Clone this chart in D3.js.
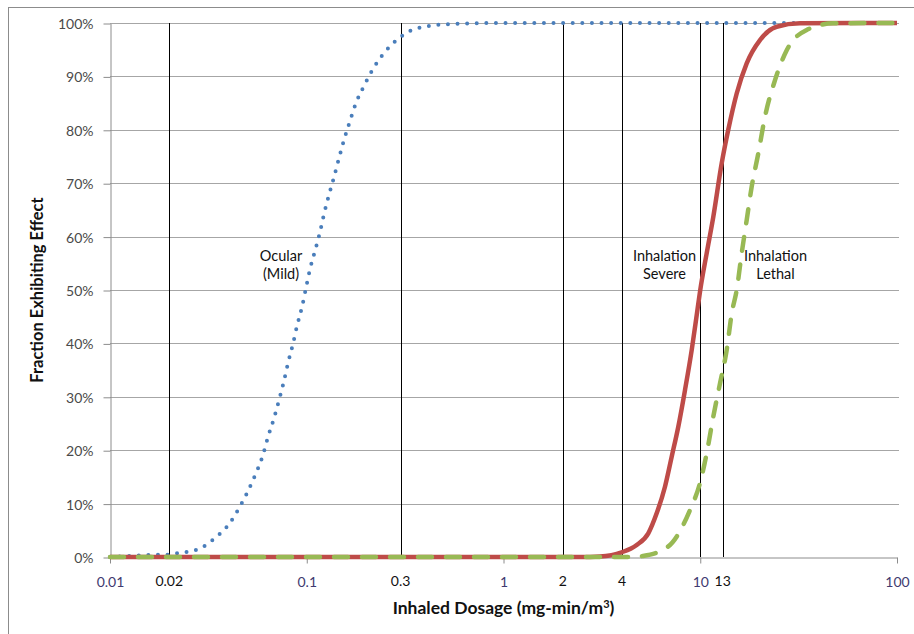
<!DOCTYPE html>
<html>
<head>
<meta charset="utf-8">
<script src="https://cdnjs.cloudflare.com/ajax/libs/d3/7.8.5/d3.min.js"></script>
<style>
  body { margin: 0; background: #fff; }
  svg text { font-family: Lato, "Open Sans", sans-serif; }
</style>
</head>
<body>
<svg></svg>
<script>
// values (dose in mg-min/m3, fraction 0..1)
var ocularDose = [0.01, 0.013, 0.016, 0.02, 0.0224, 0.0283, 0.0342, 0.0403, 0.0453, 0.0503, 0.0552, 0.0599,
  0.0635, 0.0682, 0.0723, 0.0766, 0.0803, 0.0851, 0.0892, 0.0946, 0.0991, 0.1039, 0.1101, 0.1168, 0.1224,
  0.1297, 0.1376, 0.1459, 0.1546, 0.1659, 0.1779, 0.1954, 0.2171, 0.247, 0.2909, 0.355, 0.5346, 1, 10, 100];
var ocularFrac = [0, 0.002, 0.004, 0.0045, 0.0075, 0.015, 0.0356, 0.0618, 0.0918, 0.1236, 0.157, 0.191,
  0.2247, 0.2603, 0.294, 0.3296, 0.3633, 0.3989, 0.4326, 0.4682, 0.5037, 0.5393, 0.573, 0.6086, 0.6423,
  0.6779, 0.7116, 0.7472, 0.7809, 0.8165, 0.8502, 0.882, 0.9139, 0.9438, 0.97, 0.9888, 0.998, 1, 1, 1];

var severeDose = [0.01, 2.448, 3.094, 3.987, 4.753, 5.445, 6.005, 6.618, 7.159, 7.734, 8.366, 9.049, 9.627,
  10, 10.78, 11.65, 12.85, 13.88, 15.32, 17.22, 20.12, 24.46, 32.14, 100];
var severeFrac = [0, 0, 0.001, 0.0088, 0.0225, 0.0444, 0.0818, 0.1316, 0.1878, 0.244, 0.3127, 0.3876, 0.457,
  0.5, 0.5687, 0.637, 0.737, 0.8, 0.868, 0.9245, 0.968, 0.993, 0.9994, 1];

var lethalDose = [0.01, 4.5, 5.117, 6.856, 8.87, 9.97, 10.78, 11.65, 12.6, 13.63, 14.45, 15.32, 16.24, 17.22,
  18.26, 19.73, 21.33, 23.99, 27.51, 34.75, 47.47, 100];
var lethalFrac = [0, 0, 0.002, 0.0193, 0.088, 0.1386, 0.194, 0.263, 0.325, 0.3876, 0.456, 0.5, 0.5687, 0.631,
  0.6934, 0.756, 0.8245, 0.893, 0.949, 0.987, 0.9994, 1];

var xTicks = [0.01, 0.1, 1, 10, 100];
var yTicks = [0, 0.1, 0.2, 0.3, 0.4, 0.5, 0.6, 0.7, 0.8, 0.9, 1];
var markerDoses = [0.02, 0.3, 2, 4, 10, 13];
var markerLabels = ["0.02", "0.3", "2", "4", "", "13"];

var W = 914, H = 634;
var plotL = 110, plotR = 897, plotT = 23, plotB = 557;

var svg = d3.select("svg").attr("width", W).attr("height", H);

// outer chart frame (cut off at right/bottom in the reference)
svg.append("rect")
  .attr("x", 8.5).attr("y", 7.5).attr("width", W + 20).attr("height", H + 20)
  .attr("fill", "none").attr("stroke", "#8c8c8c").attr("stroke-width", 1);

var x = d3.scaleLog().domain([0.01, 100]).range([plotL, plotR]);
var y = d3.scaleLinear().domain([0, 1]).range([plotB, plotT]);

// horizontal gridlines
svg.append("g")
  .selectAll("line")
  .data(yTicks.slice(1))
  .enter().append("line")
  .attr("x1", plotL).attr("x2", plotR + 2)
  .attr("y1", function (d) { return Math.round(y(d)) + 0.5; })
  .attr("y2", function (d) { return Math.round(y(d)) + 0.5; })
  .attr("stroke", "#a6a6a6");

// y axis
var yAxis = svg.append("g")
  .attr("transform", "translate(" + (plotL + 0.5) + ",0.5)")
  .call(d3.axisLeft(y).tickValues(yTicks).tickFormat(d3.format(".0%")).tickSize(7).tickSizeOuter(0));
yAxis.select(".domain").attr("stroke", "#8c8c8c");
yAxis.selectAll(".tick line").attr("stroke", "#8c8c8c");
yAxis.selectAll(".tick text")
  .attr("x", -17).attr("dy", "0.36em")
  .style("font-size", "14px").style("font-family", "Lato, sans-serif").attr("fill", "#4a4a4a");

// x axis
var xAxis = svg.append("g")
  .attr("transform", "translate(0," + (plotB + 0.5) + ")")
  .call(d3.axisBottom(x).tickValues(xTicks).tickFormat(d3.format("~g")).tickSize(6).tickSizeOuter(0));
xAxis.select(".domain").attr("stroke", "#8c8c8c");
xAxis.selectAll(".tick line").attr("stroke", "#8c8c8c");
xAxis.selectAll(".tick text")
  .attr("y", 29).attr("dy", 0)
  .style("font-size", "14px").style("font-family", "Lato, sans-serif").attr("fill", "#3f3a70");

// vertical marker lines
svg.append("g")
  .selectAll("line")
  .data(markerDoses)
  .enter().append("line")
  .attr("x1", function (d) { return Math.round(x(d)) + 0.5; })
  .attr("x2", function (d) { return Math.round(x(d)) + 0.5; })
  .attr("y1", plotT).attr("y2", plotB)
  .attr("stroke", "#000");

svg.append("g")
  .selectAll("text")
  .data(markerDoses)
  .enter().append("text")
  .attr("x", function (d) { return x(d); })
  .attr("y", plotB + 29)
  .attr("text-anchor", "middle")
  .style("font-size", "14px")
  .attr("fill", "#111")
  .text(function (d, i) { return markerLabels[i]; });

// curves
var line = d3.line()
  .x(function (d) { return x(d[0]); })
  .y(function (d) { return y(d[1]); })
  .curve(d3.curveMonotoneX);

function pairs(a, b) { return a.map(function (v, i) { return [v, b[i]]; }); }

svg.append("path")
  .attr("d", line(pairs(ocularDose, ocularFrac)))
  .attr("fill", "none").attr("stroke", "#4a7ebb")
  .attr("stroke-width", 4).attr("stroke-linecap", "round")
  .attr("stroke-dasharray", "0,9.6");

svg.append("path")
  .attr("d", line(pairs(severeDose, severeFrac)))
  .attr("fill", "none").attr("stroke", "#be4b48")
  .attr("stroke-width", 4.5).attr("stroke-linejoin", "round");

svg.append("path")
  .attr("d", line(pairs(lethalDose, lethalFrac)))
  .attr("fill", "none").attr("stroke", "#98b954")
  .attr("stroke-width", 4.5).attr("stroke-linecap", "round")
  .attr("stroke-dasharray", "14,14");

// in-plot labels
function label(lines, cx, baseY) {
  var t = svg.append("text")
    .attr("text-anchor", "middle")
    .style("font-size", "14.5px").attr("fill", "#111");
  lines.forEach(function (s, i) {
    t.append("tspan").attr("x", cx).attr("y", baseY + i * 17.5).text(s);
  });
}
label(["Ocular", "(Mild)"], 281, 261);
label(["Inhalation", "Severe"], 664.5, 261);
label(["Inhalation", "Lethal"], 775.5, 261);

// axis titles
var xt = svg.append("text")
  .attr("x", 503.5).attr("y", 614)
  .attr("text-anchor", "middle")
  .style("font-size", "17.5px").style("font-weight", "bold").attr("fill", "#111")
  .text("Inhaled Dosage (mg-min/m");
xt.append("tspan").attr("dy", -6).style("font-size", "11px").text("3");
xt.append("tspan").attr("dy", 6).text(")");

svg.append("text")
  .attr("transform", "translate(43," + ((plotT + plotB) / 2) + ") rotate(-90)")
  .attr("text-anchor", "middle")
  .style("font-size", "16.5px").style("font-weight", "bold").attr("fill", "#111")
  .text("Fraction Exhibiting Effect");
</script>
</body>
</html>
